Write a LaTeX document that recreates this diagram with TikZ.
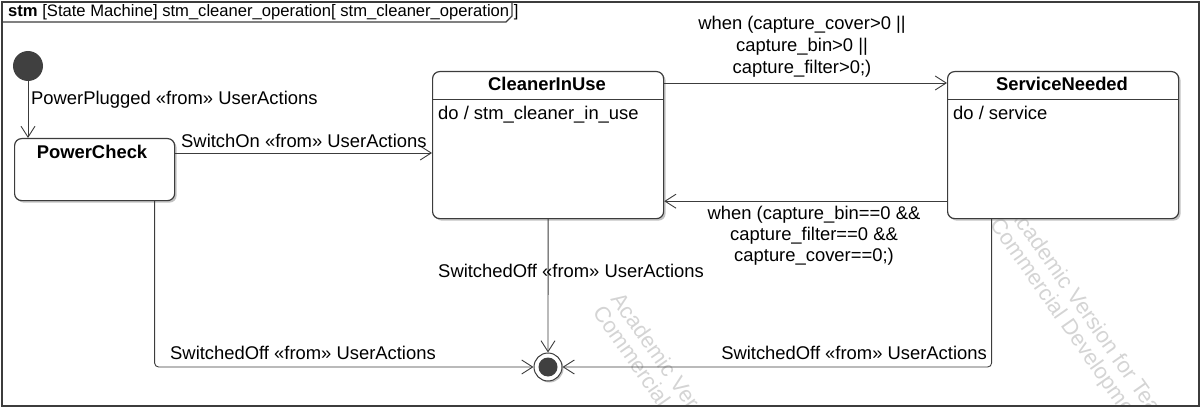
\documentclass[tikz,border=0pt]{standalone}
\usepackage{fontspec}
\setmainfont{Liberation Sans}
\usetikzlibrary{arrows.meta,shadows}

\definecolor{edge}{HTML}{3C3C3C}
\definecolor{dot}{HTML}{404040}
\definecolor{wmark}{HTML}{D4D4D4}

\tikzset{
  every node/.style={inner sep=0pt, font=\fontsize{18.4}{21.5}\selectfont},
  state/.style={draw=edge, line width=1.2pt, fill=white, rounded corners=7pt,
    inner sep=0pt, anchor=north west,
    drop shadow={shadow xshift=2pt, shadow yshift=-2pt, fill=black!40, opacity=0.6}},
  trans/.style={draw=edge, line width=0.9pt,
    -{Straight Barb[length=11pt,width=14pt,line width=0.9pt]}},
  lbl/.style={text=black},
  sname/.style={anchor=base, font=\bfseries\fontsize{18.4}{21.5}\selectfont},
  wm/.style={text=wmark, rotate=-55, anchor=west, font=\fontsize{22}{22}\selectfont},
}

\begin{document}
\begin{tikzpicture}[x=1pt, y=-1pt]
\useasboundingbox (0,0) rectangle (1202,409);

% faint tiled watermark, kept inside the frame
\begin{scope}
  \clip (2,2) rectangle (1199,406);
  \node[wm] (wmA1) at (615,296) {Academic Version for Teaching Only};
  \node[wm] (wmA2) at (597,309) {Commercial Development is strictly prohibited};
  \node[wm] (wmB1) at (1012,208) {Academic Version for Teaching Only};
  \node[wm] (wmB2) at (994,221) {Commercial Development is strictly prohibited};
\end{scope}

% diagram frame and name tab
\draw[edge, line width=1.2pt] (2,2) rectangle (1199,406);
\draw[edge, line width=1.2pt] (2,22) -- (506,22) -- (512,16) -- (512,2);
\node[anchor=base west, font=\fontsize{16.6}{20}\selectfont] (title) at (8,17)
  {\textbf{stm} [State Machine] stm\_cleaner\_operation[ stm\_cleaner\_operation ]};

% initial and final pseudostates
\node[circle, fill=dot, minimum size=30pt] (init) at (28,66) {};
\node[circle, draw=edge, line width=1pt, fill=white, minimum size=28pt,
  drop shadow={shadow xshift=1.5pt, shadow yshift=-1.5pt, fill=black!40, opacity=0.6}]
  (fin) at (548,367) {};
\fill[dot] (fin.center) circle (9.5);

% states
\node[state, minimum width=160pt, minimum height=62pt] (pc) at (14,138) {};
\node[sname] (pcName) at (92,159) {PowerCheck};

\node[state, minimum width=231pt, minimum height=147pt] (ciu) at (432,71) {};
\draw[edge, line width=1pt] (ciu.west |- 0,100) -- (ciu.east |- 0,100);
\node[sname] (ciuName) at (547,91) {CleanerInUse};
\node[anchor=base west] (ciuDo) at (438,120) {do / stm\_cleaner\_in\_use};

\node[state, minimum width=231pt, minimum height=147pt] (sn) at (947,71) {};
\draw[edge, line width=1pt] (sn.west |- 0,100) -- (sn.east |- 0,100);
\node[sname] (snName) at (1062,91) {ServiceNeeded};
\node[anchor=base west] (snDo) at (953,120) {do / service};

% transitions
\draw[trans] (init.south) -- (init.south |- pc.north);
\node[lbl, anchor=base west] (tPlug) at (31,105) {PowerPlugged «from» UserActions};

\draw[trans] ([yshift=-15pt]pc.north east) -- ([yshift=-15pt]pc.north east -| ciu.west);
\node[lbl, anchor=base west] (tOn) at (181,148) {SwitchOn «from» UserActions};

\draw[trans] ([yshift=-12pt]ciu.north east) -- ([yshift=-12pt]sn.north west);
\node[lbl, align=center, anchor=north, font=\fontsize{18.4}{22}\selectfont] (tFull) at (802,16)
  {when (capture\_cover>0 ||\\ capture\_bin>0 ||\\ capture\_filter>0;)};

\draw[trans] ([yshift=18pt]sn.south west) -- ([yshift=18pt]sn.south west -| ciu.east);
\node[lbl, align=center, anchor=north, font=\fontsize{18.4}{21}\selectfont] (tEmpty) at (814,206)
  {when (capture\_bin==0 \&\&\\ capture\_filter==0 \&\&\\ capture\_cover==0;)};

\draw[trans] (ciu.south) -- (fin.north);
\node[lbl, anchor=base] (tOff1) at (571,277) {SwitchedOff «from» UserActions};

\draw[trans, rounded corners=4pt] ([xshift=60pt]pc.south) |- (fin.west);
\node[lbl, anchor=base west] (tOff2) at (170,359) {SwitchedOff «from» UserActions};

\draw[trans, rounded corners=4pt] ([xshift=-71.5pt]sn.south) |- (fin.east);
\node[lbl, anchor=base east] (tOff3) at (987,359) {SwitchedOff «from» UserActions};
\end{tikzpicture}
\end{document}
